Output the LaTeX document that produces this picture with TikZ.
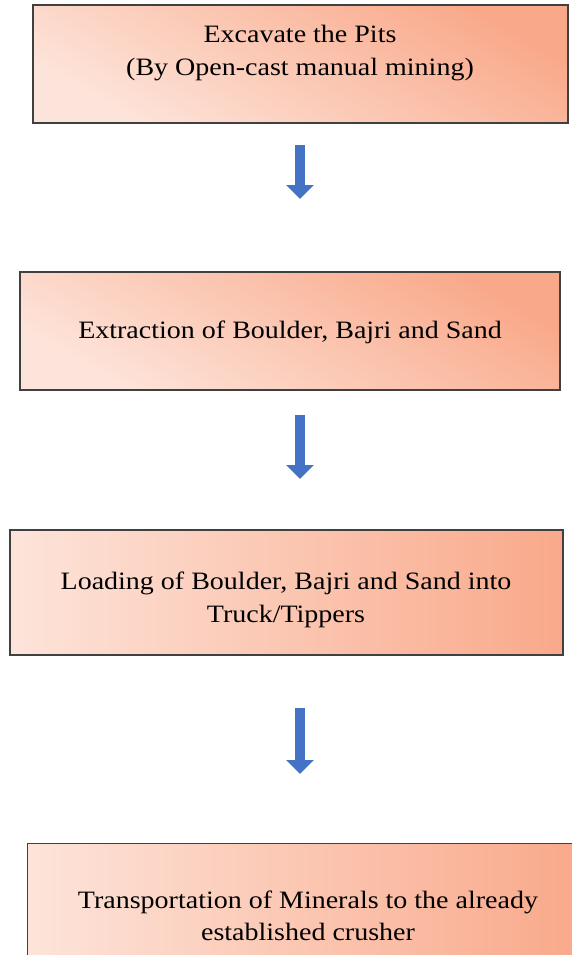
\documentclass[tikz,border=0pt]{standalone}
\usepackage{fontspec}
\setmainfont{Liberation Serif}[FakeStretch=1.12]
\usetikzlibrary{arrows.meta}

\definecolor{salmonlight}{HTML}{FDE4DA}
\definecolor{salmondark}{HTML}{F9A98A}
\definecolor{arrowblue}{HTML}{4472C4}

\tikzset{
  stepbox/.style={draw=black!75, line width=1.2pt, inner sep=0pt},
  steptext/.style={align=center, font=\fontsize{25}{32.5}\selectfont, inner sep=0pt},
  diagshade/.style={left color=salmonlight, right color=salmondark, shading angle=150},
  flatshade/.style={left color=salmonlight, right color=salmondark},
  downarrow/.style={draw=arrowblue, line width=10pt,
    -{Triangle[width=27pt,length=14pt]}, arrowblue}
}

\begin{document}
\begin{tikzpicture}[x=1pt,y=1pt]
        \useasboundingbox (0,0) rectangle (572,-955);
        % process boxes
        \node[stepbox, diagshade, minimum width=535, minimum height=118] (pits) at (300.5,-64) {};
        \node[stepbox, diagshade, minimum width=540, minimum height=118] (extract) at (290,-331) {};
        \node[stepbox, flatshade, minimum width=553, minimum height=125] (load) at (286.5,-592.5) {};
        \node[stepbox, flatshade, minimum width=553, minimum height=132, anchor=north west] (transport) at (27,-843) {};
        % box texts
        \node[steptext] (pitstext) at (300,-53) {Excavate the Pits\\(By Open-cast manual mining)};
        \node[steptext] (extracttext) at (290,-332) {Extraction of Boulder, Bajri and Sand};
        \node[steptext] (loadtext) at (286,-600) {Loading of Boulder, Bajri and Sand into\\Truck/Tippers};
        \node[steptext] (transporttext) at (308,-916) {Transportation of Minerals to the already\\established crusher};
        % arrows between boxes
        \coordinate (a1) at (300,-145);
        \coordinate (b1) at (300,-199);
        \coordinate (a2) at (300,-415);
        \coordinate (b2) at (300,-479);
        \coordinate (a3) at (300,-708);
        \coordinate (b3) at (300,-774);
        \draw[downarrow] (a1) -- (b1);
        \draw[downarrow] (a2) -- (b2);
        \draw[downarrow] (a3) -- (b3);
    \end{tikzpicture}
\end{document}
